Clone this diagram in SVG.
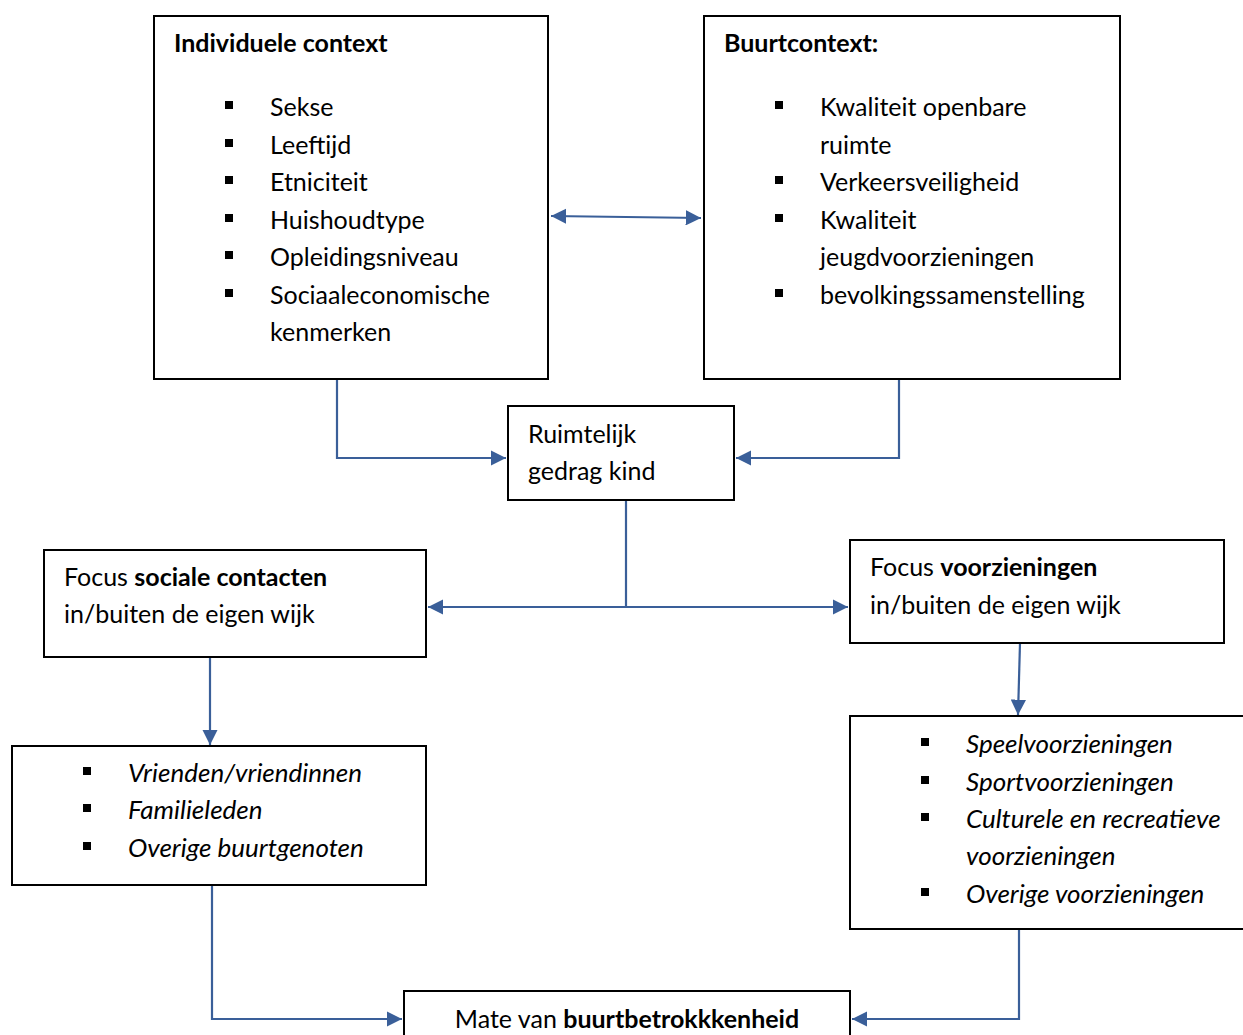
<svg xmlns="http://www.w3.org/2000/svg" width="1243" height="1035" viewBox="0 0 1243 1035">
<defs>
<style>
.box{fill:#fff;stroke:#000;stroke-width:2}
text{font-family:Lato,"Open Sans","Liberation Sans",sans-serif;font-size:25px;fill:#000}
.b{font-weight:bold}
.i{font-style:italic;font-size:26px}
.c{fill:none;stroke:#3A5F99;stroke-width:2.2}
.bl{fill:#000}
</style>
<marker id="ah" viewBox="0 0 10 10" refX="10" refY="5" markerWidth="7" markerHeight="7" orient="auto-start-reverse" markerUnits="strokeWidth">
<path d="M0,0 L10,5 L0,10 z" fill="#3A5F99"/>
</marker>
</defs>
<rect width="1243" height="1035" fill="#fff"/>
<g id="connectors">
<path class="c" d="M551,216 L701,218" marker-start="url(#ah)" marker-end="url(#ah)"/>
<path class="c" d="M337,379 L337,458 L506,458" marker-end="url(#ah)"/>
<path class="c" d="M899,379 L899,458 L736,458" marker-end="url(#ah)"/>
<path class="c" d="M626,500 L626,607"/>
<path class="c" d="M428,607 L848,607" marker-start="url(#ah)" marker-end="url(#ah)"/>
<path class="c" d="M210,657 L210,745" marker-end="url(#ah)"/>
<path class="c" d="M1020,643 L1018,715" marker-end="url(#ah)"/>
<path class="c" d="M212,885 L212,1019 L402,1019" marker-end="url(#ah)"/>
<path class="c" d="M1019,929 L1019,1019 L852,1019" marker-end="url(#ah)"/>
</g>
<g id="individuele">
<rect class="box" x="154" y="16" width="394" height="363"/>
<text class="b" x="174" y="52">Individuele context</text>
<rect class="bl" x="225" y="101" width="8" height="8"/>
<rect class="bl" x="225" y="139" width="8" height="8"/>
<rect class="bl" x="225" y="176" width="8" height="8"/>
<rect class="bl" x="225" y="214" width="8" height="8"/>
<rect class="bl" x="225" y="251" width="8" height="8"/>
<rect class="bl" x="225" y="289" width="8" height="8"/>
<text x="270" y="116">Sekse</text>
<text x="270" y="154">Leeftijd</text>
<text x="270" y="191">Etniciteit</text>
<text x="270" y="229">Huishoudtype</text>
<text x="270" y="266">Opleidingsniveau</text>
<text x="270" y="304">Sociaaleconomische</text>
<text x="270" y="341">kenmerken</text>
</g>
<g id="buurt">
<rect class="box" x="704" y="16" width="416" height="363"/>
<text class="b" x="724" y="52">Buurtcontext:</text>
<rect class="bl" x="775" y="101" width="8" height="8"/>
<rect class="bl" x="775" y="176" width="8" height="8"/>
<rect class="bl" x="775" y="214" width="8" height="8"/>
<rect class="bl" x="775" y="289" width="8" height="8"/>
<text x="820" y="116">Kwaliteit openbare</text>
<text x="820" y="154">ruimte</text>
<text x="820" y="191">Verkeersveiligheid</text>
<text x="820" y="229">Kwaliteit</text>
<text x="820" y="266">jeugdvoorzieningen</text>
<text x="820" y="304">bevolkingssamenstelling</text>
</g>
<g id="ruimtelijk">
<rect class="box" x="508" y="406" width="226" height="94"/>
<text x="528" y="443">Ruimtelijk</text>
<text x="528" y="480">gedrag kind</text>
</g>
<g id="focus-sociaal">
<rect class="box" x="44" y="550" width="382" height="107"/>
<text x="64" y="586">Focus <tspan class="b">sociale contacten</tspan></text>
<text x="64" y="623">in/buiten de eigen wijk</text>
</g>
<g id="focus-voorzieningen">
<rect class="box" x="850" y="540" width="374" height="103"/>
<text x="870" y="576">Focus <tspan class="b">voorzieningen</tspan></text>
<text x="870" y="614">in/buiten de eigen wijk</text>
</g>
<g id="sociaal-lijst">
<rect class="box" x="12" y="746" width="414" height="139"/>
<rect class="bl" x="83" y="767" width="8" height="8"/>
<rect class="bl" x="83" y="804" width="8" height="8"/>
<rect class="bl" x="83" y="842" width="8" height="8"/>
<text class="i" x="128" y="782">Vrienden/vriendinnen</text>
<text class="i" x="128" y="819">Familieleden</text>
<text class="i" x="128" y="857">Overige buurtgenoten</text>
</g>
<g id="voorzieningen-lijst">
<rect class="box" x="850" y="716" width="410" height="213"/>
<rect class="bl" x="921" y="738" width="8" height="8"/>
<rect class="bl" x="921" y="776" width="8" height="8"/>
<rect class="bl" x="921" y="813" width="8" height="8"/>
<rect class="bl" x="921" y="888" width="8" height="8"/>
<text class="i" x="966" y="753">Speelvoorzieningen</text>
<text class="i" x="966" y="791">Sportvoorzieningen</text>
<text class="i" x="966" y="828">Culturele en recreatieve</text>
<text class="i" x="966" y="865">voorzieningen</text>
<text class="i" x="966" y="903">Overige voorzieningen</text>
</g>
<g id="buurtbetrokkenheid">
<rect class="box" x="404" y="991" width="446" height="60"/>
<text x="627" y="1028" text-anchor="middle">Mate van <tspan class="b">buurtbetrokkkenheid</tspan></text>
</g>
</svg>
